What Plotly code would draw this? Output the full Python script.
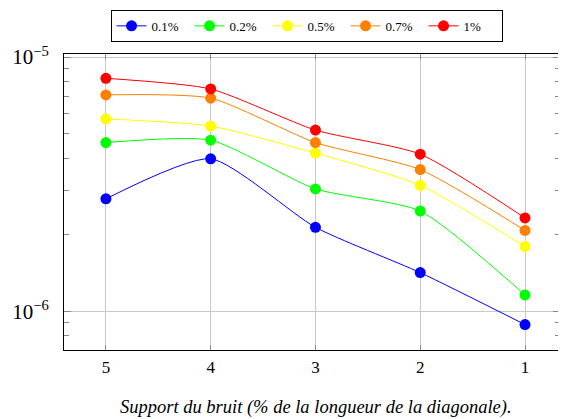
import plotly.graph_objects as go

x_support = [5, 4, 3, 2, 1]
series_names = ["0.1%", "0.2%", "0.5%", "0.7%", "1%"]
series_colors = ["#0000ff", "#00ff00", "#ffff00", "#ff8000", "#ff0000"]
v_01 = [2.77e-6, 3.98e-6, 2.14e-6, 1.42e-6, 0.887e-6]
v_02 = [4.61e-6, 4.71e-6, 3.03e-6, 2.48e-6, 1.16e-6]
v_05 = [5.71e-6, 5.35e-6, 4.19e-6, 3.13e-6, 1.80e-6]
v_07 = [7.10e-6, 6.89e-6, 4.61e-6, 3.61e-6, 2.08e-6]
v_1 = [8.25e-6, 7.49e-6, 5.16e-6, 4.15e-6, 2.33e-6]
series_values = [v_01, v_02, v_05, v_07, v_1]

y_major = [1e-6, 1e-5]
y_major_text = ["10<sup>−6</sup>", "10<sup>−5</sup>"]
y_minor = [7e-7, 8e-7, 9e-7, 2e-6, 3e-6, 4e-6, 5e-6, 6e-6, 7e-6, 8e-6, 9e-6]
x_title = "<i>Support du bruit (% de la longueur de la diagonale).</i>"

fig = go.Figure()
for name, color, vals in zip(series_names, series_colors, series_values):
    fig.add_trace(go.Scatter(
        x=x_support, y=vals, name=name, mode="lines+markers",
        line=dict(color=color, width=1, shape="spline", smoothing=0.6),
        marker=dict(color=color, size=11),
    ))

font_family = "Liberation Serif"
fig.update_layout(
    width=566, height=419,
    margin=dict(l=56, r=14, t=46, b=77, autoexpand=False),
    plot_bgcolor="white", paper_bgcolor="white",
    font=dict(family=font_family, color="black", size=17),
    showlegend=True,
    legend=dict(
        orientation="h", x=0.489, xanchor="center", y=1.149, yanchor="top",
        bordercolor="black", borderwidth=1, bgcolor="white",
        font=dict(size=13, family=font_family),
        tracegroupgap=0, entrywidth=33,
    ),
    xaxis=dict(
        range=[5.4, 0.666], tickvals=x_support, ticktext=[str(v) for v in x_support],
        tickfont=dict(size=17, family=font_family),
        showgrid=True, gridcolor="#c8c8c8", gridwidth=1,
        ticks="inside", ticklen=5, tickcolor="#888",
        showline=True, linecolor="black", linewidth=1, mirror="ticks",
        zeroline=False, automargin=False, ticklabelstandoff=2,
    ),
    yaxis=dict(
        type="log", range=[-6.152, -4.988],
        tickvals=y_major, ticktext=y_major_text,
        tickfont=dict(size=21, family=font_family),
        showgrid=True, gridcolor="#c8c8c8", gridwidth=1,
        ticks="inside", ticklen=7, tickcolor="#888",
        showline=True, linecolor="black", linewidth=1, mirror="ticks",
        minor=dict(tickvals=y_minor, ticks="inside", ticklen=5, tickcolor="#888", showgrid=False),
        zeroline=False, automargin=False, ticklabelstandoff=10,
    ),
    annotations=[dict(
        text=x_title, xref="paper", yref="paper", x=0.508, y=-0.1926,
        xanchor="center", yanchor="middle", showarrow=False,
        font=dict(size=18.5, family=font_family),
    )],
)

fig.write_html("out.html")
